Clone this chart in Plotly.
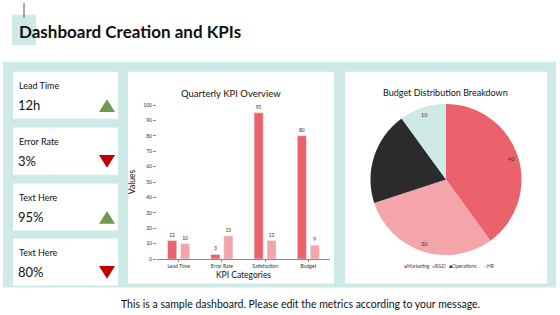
import math
import plotly.graph_objects as go

W, H = 560, 315

# ---- data ----
kpi_names = ["Lead Time", "Error Rate", "Text Here", "Text Here"]
kpi_values = ["12h", "3%", "95%", "80%"]
kpi_trend = ["up", "down", "up", "down"]

bar_categories = ["Lead Time", "Error Rate", "Satisfaction", "Budget"]
bar_series_a = [12, 3, 95, 80]
bar_series_b = [10, 15, 12, 9]

pie_labels = ["Marketing", "R&D", "Operations", "HR"]
pie_values = [40, 30, 20, 10]

FONT = "Lato"
TEAL = "#CDEAE6"
RED = "#EC626C"
PINK = "#F4A5AB"
DARK = "#2B2A2C"
pie_colors = [RED, PINK, DARK, TEAL]

def px(x):
    return x / W

def py(y):
    return 1 - y / H

fig = go.Figure()

# bar chart
fig.add_trace(go.Bar(x=bar_categories, y=bar_series_a, marker_color=RED,
                     text=bar_series_a, textposition="outside",
                     textfont=dict(size=5, color="#333"), cliponaxis=False,
                     showlegend=False, xaxis="x", yaxis="y"))
fig.add_trace(go.Bar(x=bar_categories, y=bar_series_b, marker_color=PINK,
                     text=bar_series_b, textposition="outside",
                     textfont=dict(size=5, color="#333"), cliponaxis=False,
                     showlegend=False, xaxis="x", yaxis="y"))

# pie chart (labels placed near the outer edge, like the reference)
PIE_CX, PIE_CY, PIE_R = 446, 180, 77
fig.add_trace(go.Pie(labels=pie_labels, values=pie_values,
                     marker=dict(colors=pie_colors),
                     direction="clockwise", sort=False, rotation=0,
                     textinfo="none",
                     domain=dict(x=[px(PIE_CX - PIE_R), px(PIE_CX + PIE_R)],
                                 y=[py(PIE_CY + PIE_R), py(PIE_CY - PIE_R)]),
                     showlegend=False))

shapes = []
# teal backdrop
shapes.append(dict(type="rect", xref="paper", yref="paper", x0=px(3), x1=px(556),
                   y0=py(290), y1=py(60), fillcolor=TEAL, line_width=0, layer="below"))
# white panels
for (x0, y0, x1, y1) in [(128, 70, 334, 286), (345, 70, 547, 286)]:
    shapes.append(dict(type="rect", xref="paper", yref="paper", x0=px(x0), x1=px(x1),
                       y0=py(y1), y1=py(y0), fillcolor="white", line_width=0, layer="below"))
card_tops = [70, 127, 184, 240]
card_h = 48
for t in card_tops:
    shapes.append(dict(type="rect", xref="paper", yref="paper", x0=px(13), x1=px(118),
                       y0=py(t + card_h), y1=py(t), fillcolor="white", line_width=0, layer="below"))
# title square and line
shapes.append(dict(type="rect", xref="paper", yref="paper", x0=px(12), x1=px(36),
                   y0=py(43), y1=py(12), fillcolor=TEAL, line_width=0, layer="below"))
shapes.append(dict(type="line", xref="paper", yref="paper", x0=px(24), x1=px(24),
                   y0=py(0), y1=py(15), line=dict(color="#555", width=1)))
# trend triangles
for t, tr in zip(card_tops, kpi_trend):
    cx, cy = 107, t + 35
    if tr == "up":
        pts = [(cx - 8, cy + 6), (cx + 8, cy + 6), (cx, cy - 7)]
        col = "#6E9A50"
    else:
        pts = [(cx - 8, cy - 7), (cx + 8, cy - 7), (cx, cy + 6)]
        col = "#C00000"
    path = "M " + " L ".join(f"{px(a)},{py(b)}" for a, b in pts) + " Z"
    shapes.append(dict(type="path", xref="paper", yref="paper", path=path,
                       fillcolor=col, line_width=0))

annotations = []
annotations.append(dict(text="<b>Dashboard Creation and KPIs</b>", x=px(17), y=py(29),
                        xref="paper", yref="paper", xanchor="left", yanchor="middle",
                        showarrow=False, font=dict(family=FONT, size=17, color="#111")))
for t, name, val in zip(card_tops, kpi_names, kpi_values):
    annotations.append(dict(text=name, x=px(17), y=py(t + 14), xref="paper", yref="paper",
                            xanchor="left", yanchor="middle", showarrow=False,
                            font=dict(family=FONT, size=9, color="#111")))
    annotations.append(dict(text=val, x=px(16), y=py(t + 34), xref="paper", yref="paper",
                            xanchor="left", yanchor="middle", showarrow=False,
                            font=dict(family=FONT, size=13, color="#111")))
annotations.append(dict(text="Quarterly KPI Overview", x=px(231), y=py(92), xref="paper",
                        yref="paper", xanchor="center", yanchor="middle", showarrow=False,
                        font=dict(family=FONT, size=9.5, color="#111")))
annotations.append(dict(text="Budget Distribution Breakdown", x=px(446), y=py(91), xref="paper",
                        yref="paper", xanchor="center", yanchor="middle", showarrow=False,
                        font=dict(family=FONT, size=9, color="#111")))
annotations.append(dict(text="This is a sample dashboard. Please edit the metrics according to your message.",
                        x=px(300), y=py(307), xref="paper", yref="paper", xanchor="center",
                        yanchor="middle", showarrow=False,
                        font=dict(family=FONT, size=10.5, color="#111")))
# pie value labels near the outer edge, from the data's cumulative angles
total = sum(pie_values)
cum = 0
for v in pie_values:
    mid = (cum + v / 2) / total * 2 * math.pi
    cum += v
    r = PIE_R * 0.9
    lx = PIE_CX + r * math.sin(mid)
    ly = PIE_CY - r * math.cos(mid)
    annotations.append(dict(text=str(v), x=px(lx), y=py(ly), xref="paper", yref="paper",
                            xanchor="center", yanchor="middle", showarrow=False,
                            font=dict(family=FONT, size=5.5, color="#333")))
# manual pie legend
legend_x = [402, 430, 447, 482]
for lx, lab, col in zip(legend_x, pie_labels, pie_colors):
    annotations.append(dict(text=f'<span style="color:{col}">■</span>{lab}',
                            x=px(lx), y=py(268), xref="paper", yref="paper",
                            xanchor="left", yanchor="middle", showarrow=False,
                            font=dict(family=FONT, size=5, color="#444")))

fig.update_layout(
    width=W, height=H, margin=dict(l=0, r=0, t=0, b=0),
    paper_bgcolor="white", plot_bgcolor="white",
    font=dict(family=FONT, color="#333"),
    barmode="group", bargap=0.4, bargroupgap=0.3,
    showlegend=False,
    xaxis=dict(domain=[px(157), px(330)], anchor="y", showgrid=False,
               showline=True, linecolor="#888", linewidth=0.8,
               ticks="outside", ticklen=2, tickcolor="#888",
               tickfont=dict(size=5, color="#333"),
               title=dict(text="KPI Categories", font=dict(size=8.5, color="#111"), standoff=4)),
    yaxis=dict(domain=[py(261), py(104)], anchor="x", range=[0, 100], dtick=10,
               showgrid=False, showline=False, zeroline=False,
               ticks="outside", ticklen=3, tickcolor="#888",
               tickfont=dict(size=5, color="#333"),
               title=dict(text="Values", font=dict(size=8.5, color="#111"), standoff=6)),
    shapes=shapes, annotations=annotations,
)

fig.write_html("out.html")
